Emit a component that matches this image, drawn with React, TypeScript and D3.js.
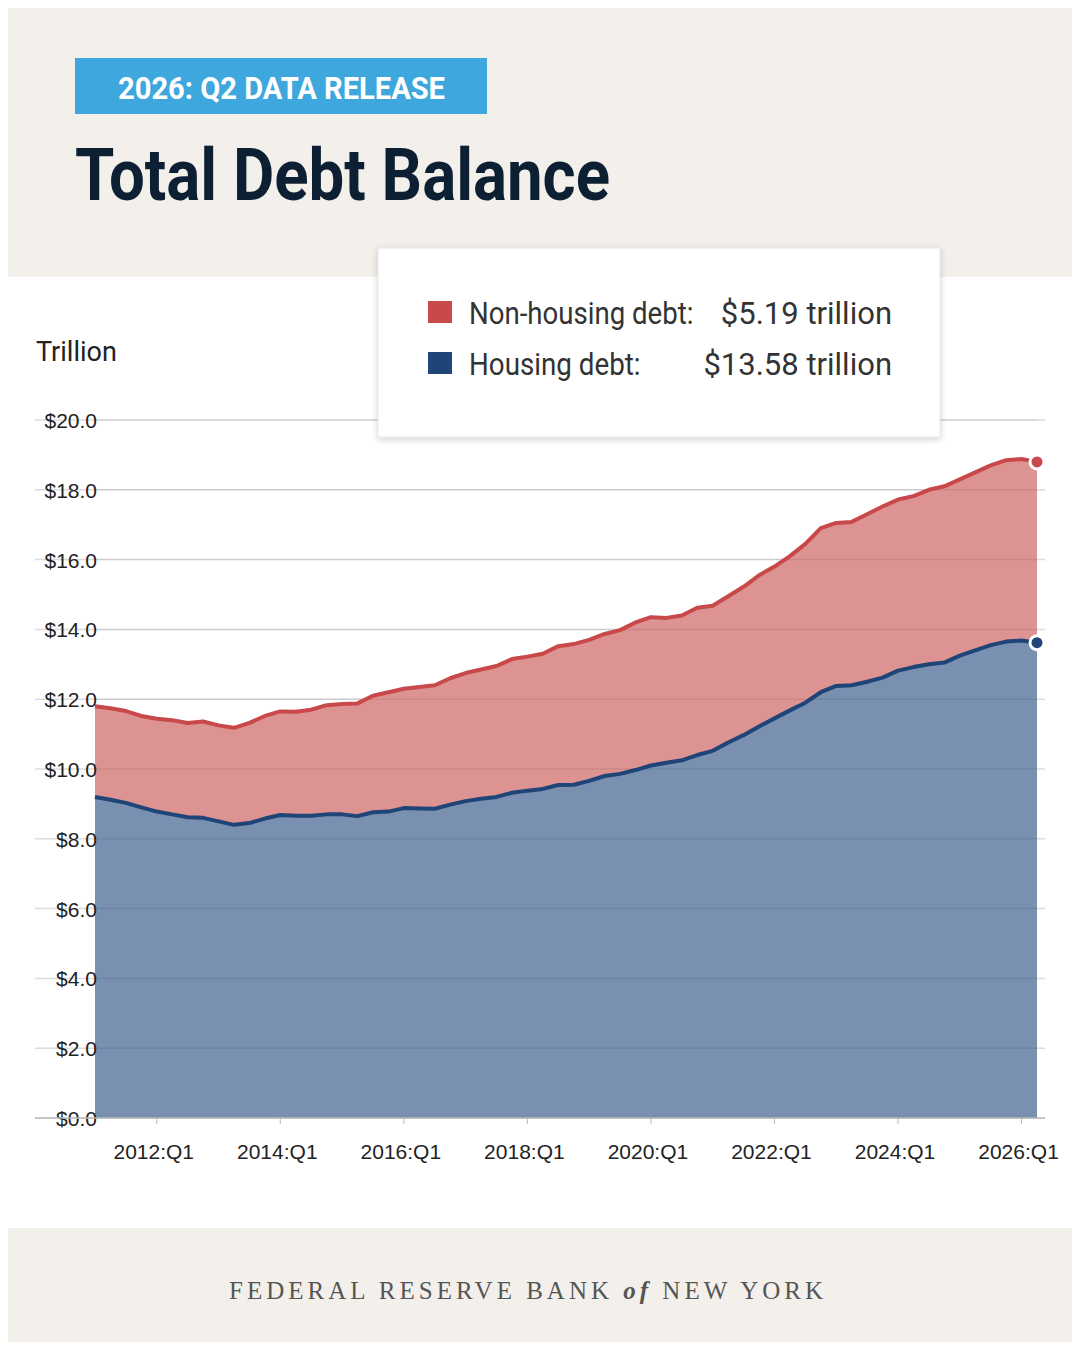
import * as d3 from 'd3';
import React from 'react';

const startYear = 2011;
const housing = [9.2, 9.12, 9.03, 8.9, 8.78, 8.7, 8.62, 8.6, 8.5, 8.4, 8.45, 8.58, 8.68, 8.66, 8.66, 8.7, 8.7, 8.65, 8.76, 8.78, 8.88, 8.87, 8.86, 8.98, 9.08, 9.15, 9.2, 9.32, 9.38, 9.43, 9.54, 9.55, 9.66, 9.8, 9.86, 9.97, 10.1, 10.18, 10.25, 10.4, 10.52, 10.76, 10.97, 11.22, 11.45, 11.68, 11.9, 12.2, 12.38, 12.4, 12.5, 12.62, 12.82, 12.92, 13.0, 13.05, 13.25, 13.4, 13.55, 13.65, 13.68, 13.62];
const total = [11.8, 11.74, 11.66, 11.52, 11.44, 11.4, 11.32, 11.36, 11.25, 11.18, 11.32, 11.52, 11.65, 11.64, 11.7, 11.83, 11.86, 11.88, 12.1, 12.2, 12.3, 12.35, 12.4, 12.6, 12.75, 12.85, 12.95, 13.15, 13.22, 13.3, 13.52, 13.58, 13.7, 13.87, 13.98, 14.2, 14.35, 14.33, 14.4, 14.62, 14.68, 14.95, 15.22, 15.55, 15.8, 16.1, 16.45, 16.9, 17.05, 17.08, 17.3, 17.52, 17.72, 17.82, 18.0, 18.1, 18.3, 18.5, 18.7, 18.85, 18.88, 18.8];
const yTicks = [0, 2, 4, 6, 8, 10, 12, 14, 16, 18, 20];
const xTickYears = [2012, 2014, 2016, 2018, 2020, 2022, 2024, 2026];
const legendItems = [
  { label: 'Non-housing debt:', value: '$5.19 trillion', color: '#c9484a' },
  { label: 'Housing debt:', value: '$13.58 trillion', color: '#1f4478' },
];

const W = 1080;
const H = 1350;
const x = d3.scaleLinear().domain([0, housing.length - 1]).range([95, 1037]);
const y = d3.scaleLinear().domain([0, 20]).range([1118, 420]);
const q = (yr: number) => (yr - startYear) * 4;

export default function App() {
  const idx = d3.range(housing.length);
  const areaH = d3.area<number>().x(i => x(i)).y0(y(0)).y1(i => y(housing[i]));
  const areaT = d3.area<number>().x(i => x(i)).y0(i => y(housing[i])).y1(i => y(total[i]));
  const lineH = d3.line<number>().x(i => x(i)).y(i => y(housing[i]));
  const lineT = d3.line<number>().x(i => x(i)).y(i => y(total[i]));
  const last = housing.length - 1;
  const cond = 'Roboto, Arial, sans-serif';

  return (
    <svg width={W} height={H} style={{ display: 'block', margin: -8 }}>
      <defs>
        <filter id="sh" x="-10%" y="-10%" width="120%" height="130%">
          <feDropShadow dx="0" dy="2" stdDeviation="3" floodColor="#000" floodOpacity="0.18" />
        </filter>
      </defs>
      <rect width={W} height={H} fill="#f3f0eb" />
      <rect y={277} width={W} height={951} fill="#fff" />

      <rect x={75} y={58} width={412} height={56} fill="#3ea8de" />
      <text x={118} y={99} fill="#fff" fontFamily={cond} fontWeight="bold" fontSize={31} textLength={327} lengthAdjust="spacingAndGlyphs">2026: Q2 DATA RELEASE</text>
      <text x={75} y={200} fill="#0d1f33" fontFamily={cond} fontWeight="bold" fontSize={72} textLength={535} lengthAdjust="spacingAndGlyphs">Total Debt Balance</text>

      <text x={36} y={361} fontFamily="Roboto, Arial, sans-serif" fontSize={27} fill="#222">Trillion</text>
      {yTicks.map(t => (
        <g key={t}>
          <line x1={35} x2={1045} y1={y(t)} y2={y(t)} stroke="#dcdcdc" strokeWidth={1.5} />
        </g>
      ))}

      <path d={areaT(idx) ?? ''} fill="#dc9391" />
      <path d={areaH(idx) ?? ''} fill="#7990b0" />
      {yTicks.map(t => (
        <line key={'g' + t} x1={95} x2={1037} y1={y(t)} y2={y(t)} stroke="#000" strokeOpacity={0.07} strokeWidth={1.5} />
      ))}
      <path d={lineT(idx) ?? ''} fill="none" stroke="#c9484a" strokeWidth={4} strokeLinejoin="round" />
      <path d={lineH(idx) ?? ''} fill="none" stroke="#1f4478" strokeWidth={4} strokeLinejoin="round" />
      <circle cx={x(last)} cy={y(total[last])} r={7} fill="#c9484a" stroke="#fff" strokeWidth={3} />
      <circle cx={x(last)} cy={y(housing[last])} r={7} fill="#1f4478" stroke="#fff" strokeWidth={3} />

      {yTicks.map(t => (
        <text key={'l' + t} x={97} y={y(t) + 8} textAnchor="end" fontFamily="Arial, sans-serif" fontSize={21} fill="#222">${t.toFixed(1)}</text>
      ))}

      <line x1={35} x2={1045} y1={y(0)} y2={y(0)} stroke="#bbb" strokeWidth={1.5} />
      {xTickYears.map(yr => (
        <g key={yr}>
          <line x1={x(q(yr))} x2={x(q(yr))} y1={y(0)} y2={y(0) + 6} stroke="#bbb" />
          <text x={x(q(yr)) - 3} y={1159} textAnchor="middle" fontFamily="Arial, sans-serif" fontSize={21} fill="#222">{yr}:Q1</text>
        </g>
      ))}

      <rect x={378} y={248} width={562} height={189} fill="#fff" stroke="#e6e6e6" filter="url(#sh)" />
      {legendItems.map((d, i) => (
        <g key={d.label} transform={`translate(0,${i * 51})`}>
          <rect x={428} y={301} width={24} height={22} fill={d.color} />
          <text x={469} y={324} fontFamily={cond} fontSize={31} fill="#333" textLength={d.label.length * 13.2} lengthAdjust="spacingAndGlyphs">{d.label}</text>
          <text x={892} y={324} textAnchor="end" fontFamily={cond} fontSize={31} fill="#333">{d.value}</text>
        </g>
      ))}

      <text x={528} y={1299} textAnchor="middle" fontFamily="'Liberation Serif', 'DejaVu Serif', serif" fontSize={25} fill="#555" letterSpacing={4}>
        FEDERAL RESERVE BANK <tspan fontStyle="italic" fontWeight="bold">of</tspan> NEW YORK
      </text>
    </svg>
  );
}
